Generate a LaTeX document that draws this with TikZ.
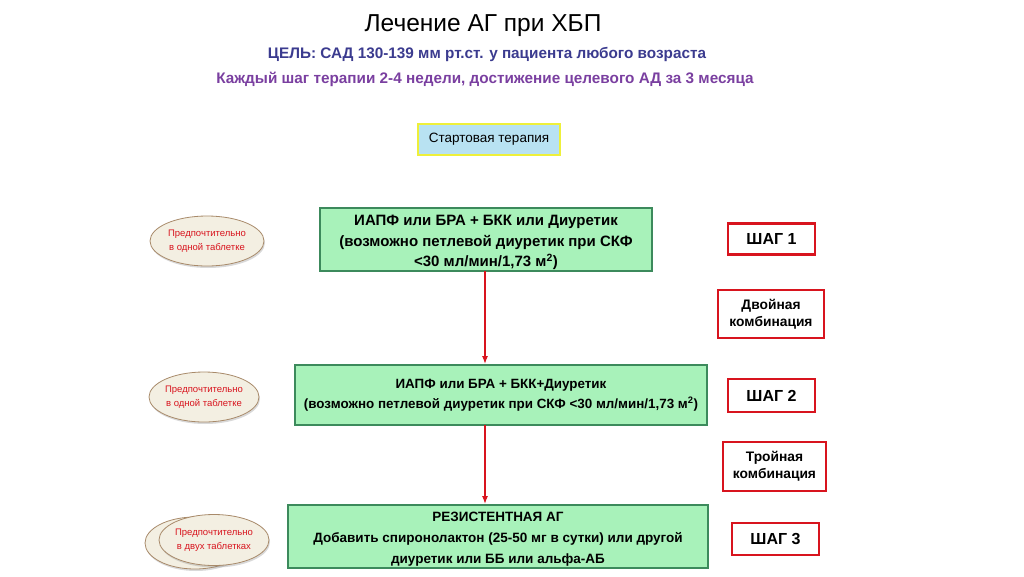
\documentclass[tikz,border=0pt]{standalone}
\usepackage{fontspec}
\setmainfont{Liberation Sans}
\usetikzlibrary{shapes,arrows.meta,shadows}
\definecolor{goalblue}{HTML}{3B3B8F}
\definecolor{steppurple}{HTML}{7A3FA0}
\definecolor{boxgreen}{HTML}{A8F2BA}
\definecolor{edgegreen}{HTML}{3C8A5C}
\definecolor{startblue}{HTML}{B8E2F2}
\definecolor{startyellow}{HTML}{EEF03A}
\definecolor{stepred}{HTML}{D8141E}
\definecolor{pillfill}{HTML}{F3EFE2}
\definecolor{pilledge}{HTML}{A88A6A}

\begin{document}
\begin{tikzpicture}[x=1pt,y=-1pt,
        therapy/.style = {draw=edgegreen, fill=boxgreen, line width=2pt, inner sep=0pt},
        therapytext/.style = {align=center, inner sep=0pt,
            font=\fontsize{15}{20.5}\selectfont\bfseries},
        stepbox/.style = {draw=stepred, fill=white, line width=2.4pt, align=center,
            font=\fontsize{16}{18}\selectfont\bfseries, inner sep=0pt},
        combo/.style = {stepbox, font=\fontsize{13.8}{17}\selectfont\bfseries},
        pill/.style = {ellipse, draw=pilledge, fill=pillfill, line width=0.8pt,
            drop shadow={shadow xshift=1pt, shadow yshift=-2pt, opacity=0.3},
            align=center, text=stepred, font=\fontsize{9.5}{14}\selectfont, inner sep=0pt},
        flow/.style = {draw=stepred, line width=1.2pt, -{Latex[length=8pt,width=6pt]}}]
    \useasboundingbox (0,0) rectangle (1024,576);
    % headings
    \node (title) at (483,26) {\fontsize{24.5}{28}\selectfont Лечение АГ при ХБП};
    \node [text=goalblue, font=\fontsize{15.3}{17}\selectfont\bfseries] (goal) at (487,54)
        {ЦЕЛЬ: САД 130-139 мм рт.ст. у пациента любого возраста};
    \node [text=steppurple, font=\fontsize{15.3}{17}\selectfont\bfseries] (period) at (485,79)
        {Каждый шаг терапии 2-4 недели, достижение целевого АД за 3 месяца};
    \node [draw=startyellow, fill=startblue, line width=2.5pt, minimum width=142pt,
        minimum height=31pt, font=\fontsize{13.5}{15}\selectfont] (start) at (489,139.5)
        {\raisebox{-2pt}{Стартовая терапия}};
    % therapy steps
    \node [therapy, minimum width=332pt, minimum height=63pt] (s1) at (486,239.5) {};
    \node [therapytext] (s1text) at ([yshift=-3pt]s1.center)
        {ИАПФ или БРА + БКК или Диуретик\\(возможно петлевой диуретик при СКФ\\<30 мл/мин/1,73 м\textsuperscript{2})};
    \node [therapy, minimum width=412pt, minimum height=60pt] (s2) at (501,395) {};
    \node [therapytext, font=\fontsize{13.4}{20.5}\selectfont\bfseries] (s2text) at (s2.center)
        {ИАПФ или БРА + БКК+Диуретик\\(возможно петлевой диуретик при СКФ <30 мл/мин/1,73 м\textsuperscript{2})};
    \node [therapy, minimum width=420pt, minimum height=63pt] (s3) at (498,536.5) {};
    \node [therapytext, font=\fontsize{13.5}{21}\selectfont\bfseries] (s3text) at ([yshift=-2.5pt]s3.center)
        {РЕЗИСТЕНТНАЯ АГ\\Добавить спиронолактон (25-50 мг в сутки) или другой\\диуретик или ББ или альфа-АБ};
    \draw [flow] (485,271) coordinate (a1) -- (a1 |- s2.north);
    \draw [flow] (485,425) coordinate (a2) -- (a2 |- s3.north);
    % pills
    \node [pill, minimum width=114pt, minimum height=50pt] (p1) at (207,241)
        {Предпочтительно\\в одной таблетке};
    \node [pill, minimum width=108pt, minimum height=50pt] (p2) at (204,397)
        {Предпочтительно\\в одной таблетке};
    \node [pill, minimum width=100pt, minimum height=52pt] (p3b) at (195,543) {};
    \node [pill, minimum width=98pt, minimum height=51pt] (p3) at (214,540)
        {Предпочтительно\\в двух таблетках};
    % step labels
    \node [stepbox, minimum width=87pt, minimum height=31pt] (step1) at (771.5,239) {ШАГ 1};
    \node [combo, minimum width=106pt, minimum height=48pt] (dual) at (771,314)
        {Двойная\\комбинация};
    \node [stepbox, minimum width=87pt, minimum height=33pt] (step2) at (771.5,395.5) {ШАГ 2};
    \node [combo, minimum width=103pt, minimum height=49pt] (triple) at (774.5,466.5)
        {Тройная\\комбинация};
    \node [stepbox, minimum width=87pt, minimum height=32pt] (step3) at (775.5,539) {ШАГ 3};
\end{tikzpicture}
\end{document}
